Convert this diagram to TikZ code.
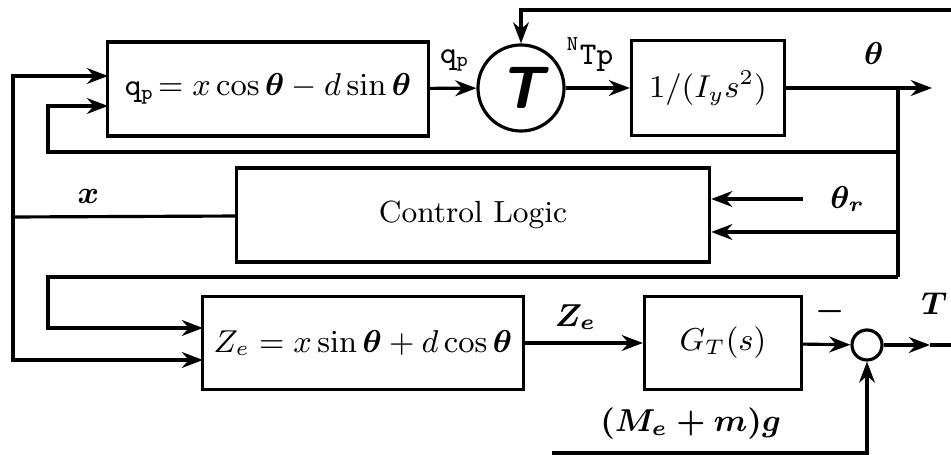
\documentclass[tikz,border=0pt]{standalone}
\usepackage{amsmath}
\usetikzlibrary{arrows.meta}
\begin{document}
\begin{tikzpicture}[x=0.01cm,y=-0.01cm,
  every node/.style={font=\fontsize{8.7}{10}\selectfont},
  blk/.style={rectangle,draw,line width=0.9pt,align=center,inner sep=2pt,font=\fontsize{8.7}{10}\selectfont},
  sig/.style={line width=0.9pt,-{Stealth[length=6pt,width=4.5pt]}},
  wire/.style={line width=0.9pt},
  lbl/.style={font=\fontsize{8.7}{10}\selectfont\boldmath}]
\useasboundingbox (0,0) rectangle (951,455);

\node[blk, minimum width=3.2cm, minimum height=0.94cm] (qp) at (268,89) {$\mathtt{q_p}\!= x\cos\boldsymbol{\theta} - d\sin\boldsymbol{\theta}$};
\node[circle,draw,line width=0.9pt,minimum size=0.86cm,inner sep=0pt] (tq) at (521,88) {\fontsize{17}{17}\selectfont\sffamily\bfseries\slshape T};
\node[blk, minimum width=1.53cm, minimum height=0.95cm] (iy) at (708,88) {$1/(I_y s^2)$};
\node[blk, minimum width=4.73cm, minimum height=0.94cm] (cl) at (473,215) {Control Logic};
\node[blk, minimum width=3.2cm, minimum height=0.93cm] (ze) at (363,343) {$Z_e = x\sin\boldsymbol{\theta} + d\cos\boldsymbol{\theta}$};
\node[blk, minimum width=1.57cm, minimum height=0.93cm] (gt) at (723,343) {$G_T(s)$};
\node[circle,draw,line width=0.9pt,minimum size=0.3cm,inner sep=0pt] (sum) at (867,345) {};

% ends of the lines
\coordinate (xj) at (13,217);
\coordinate (qpa) at (108,76);
\coordinate (qpb) at (108,106);
\coordinate (zea) at (203,328);
\coordinate (zeb) at (203,360);
\coordinate (thj) at (898,88);
\coordinate (tho) at (932,88);
\coordinate (fbtop) at (951,10);
\coordinate (thr) at (803,199);
\coordinate (thc) at (898,232);
\coordinate (loopa) at (898,152);
\coordinate (loopb) at (898,277);
\coordinate (lefta) at (48,152);
\coordinate (leftb) at (48,277);
\coordinate (tout) at (930,345);
\coordinate (tend) at (951,345);
\coordinate (mg) at (552,453);

% forward path
\draw[sig] (qp) -- node[lbl,above,pos=0.54,yshift=1pt] {$\mathtt{q_p}$} (tq);
\draw[sig] (tq) -- node[above,pos=0.38,yshift=1pt] {${}^{\mathtt{N}}\mathtt{Tp}$} (iy);
\draw[sig] (iy) -- node[lbl,above,pos=0.6,yshift=3pt] {$\theta$} (tho);
\draw[sig] (fbtop) -| (tq);

% theta fed back
\draw[wire] (thj) -- (loopb);
\draw[sig] (loopa) -- (lefta) |- (qpb);
\draw[sig] (thc) -- (thc -| cl.east);
\draw[sig] (loopb) -- (leftb) |- (zea);
\draw[sig] (thr) -- node[lbl,right,pos=0,xshift=4pt] {$\theta_r$} (thr -| cl.east);

% x from control logic
\draw[wire] (cl) -- node[lbl,above,pos=0.66] {$x$} (xj);
\draw[sig] (xj) |- (qpa);
\draw[sig] (xj) |- (zeb);

% lower path
\draw[sig] (ze) -- node[lbl,above,pos=0.43] {$Z_e$} (gt);
\draw[sig] (gt) -- node[lbl,above,pos=0.56,yshift=2pt] {$-$} (sum);
\draw[sig] (sum) -- (tout);
\draw[wire] (tout) -- node[lbl,above,pos=0.2,yshift=5pt] {$T$} (tend);
\draw[sig] (mg) -| node[lbl,above,pos=0.22] {$(M_e + m)g$} (sum);
\end{tikzpicture}
\end{document}
